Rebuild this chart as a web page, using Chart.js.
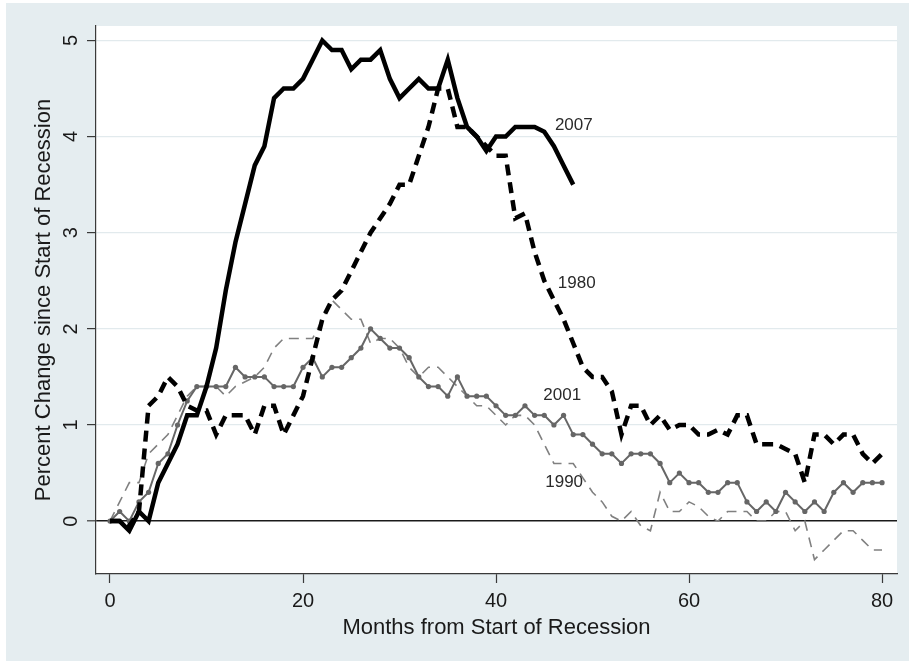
<!DOCTYPE html>
<html>
<head>
<meta charset="utf-8">
<title>Percent Change since Start of Recession</title>
<script src="https://cdn.jsdelivr.net/npm/chart.js@4.4.1/dist/chart.umd.min.js"></script>
<style>
  html, body { margin: 0; padding: 0; background: #ffffff; }
  #wrap { width: 909px; height: 661px; }
</style>
</head>
<body>
<div id="wrap"><canvas id="chart" width="909" height="661"></canvas></div>
<script>
// Percent change since start of recession, one value per month (index = month)
const r2007 = [0, 0, -0.1, 0.1, 0, 0.4, 0.6, 0.8, 1.1, 1.1, 1.4, 1.8, 2.4, 2.9, 3.3, 3.7, 3.9, 4.4, 4.5, 4.5,
  4.6, 4.8, 5.0, 4.9, 4.9, 4.7, 4.8, 4.8, 4.9, 4.6, 4.4, 4.5, 4.6, 4.5, 4.5, 4.8, 4.4, 4.1, 4.0, 3.85,
  4.0, 4.0, 4.1, 4.1, 4.1, 4.05, 3.9, 3.7, 3.5];

const r1980 = [0, 0, -0.05, 0.1, 1.2, 1.3, 1.5, 1.4, 1.2, 1.15, 1.15, 0.9, 1.1, 1.1, 1.1, 0.9, 1.2, 1.2, 0.9, 1.1,
  1.3, 1.7, 2.1, 2.3, 2.4, 2.6, 2.8, 3.0, 3.15, 3.3, 3.5, 3.5, 3.8, 4.1, 4.5, 4.5, 4.1, 4.1, 4.0, 3.9,
  3.8, 3.8, 3.15, 3.2, 2.8, 2.5, 2.3, 2.1, 1.85, 1.6, 1.5, 1.5, 1.35, 0.9, 1.2, 1.2, 1.0, 1.1, 0.95, 1.0,
  1.0, 0.9, 0.9, 0.95, 0.9, 1.1, 1.1, 0.8, 0.8, 0.8, 0.75, 0.7, 0.4, 0.9, 0.9, 0.8, 0.9, 0.9, 0.7, 0.6,
  0.7];

const r2001 = [0, 0.1, 0, 0.2, 0.3, 0.6, 0.7, 1.0, 1.25, 1.4, 1.4, 1.4, 1.4, 1.6, 1.5, 1.5, 1.5, 1.4, 1.4, 1.4,
  1.6, 1.7, 1.5, 1.6, 1.6, 1.7, 1.8, 2.0, 1.9, 1.8, 1.8, 1.7, 1.5, 1.4, 1.4, 1.3, 1.5, 1.3, 1.3, 1.3,
  1.2, 1.1, 1.1, 1.2, 1.1, 1.1, 1.0, 1.1, 0.9, 0.9, 0.8, 0.7, 0.7, 0.6, 0.7, 0.7, 0.7, 0.6, 0.4, 0.5,
  0.4, 0.4, 0.3, 0.3, 0.4, 0.4, 0.2, 0.1, 0.2, 0.1, 0.3, 0.2, 0.1, 0.2, 0.1, 0.3, 0.4, 0.3, 0.4, 0.4,
  0.4];

const r1990 = [0, 0.2, 0.4, 0.4, 0.7, 0.8, 0.9, 1.1, 1.3, 1.4, 1.4, 1.4, 1.3, 1.4, 1.45, 1.5, 1.6, 1.8, 1.9, 1.9,
  1.9, 1.9, 2.1, 2.3, 2.2, 2.1, 2.1, 1.85, 1.9, 1.9, 1.8, 1.6, 1.5, 1.6, 1.6, 1.5, 1.4, 1.3, 1.2, 1.2,
  1.1, 1.0, 1.1, 1.1, 1.0, 0.8, 0.6, 0.6, 0.6, 0.45, 0.3, 0.2, 0.05, 0, 0.1, -0.05, -0.1, 0.3, 0.1, 0.1,
  0.2, 0.15, 0.05, 0, 0.1, 0.1, 0.1, 0, 0, 0.1, 0.1, -0.1, 0, -0.4, -0.3, -0.2, -0.1, -0.1, -0.2, -0.3,
  -0.3];

const seriesNames = ['2007', '1980', '2001', '1990'];
const xTicks = [0, 20, 40, 60, 80];
const yTicks = [0, 1, 2, 3, 4, 5];

document.addEventListener('DOMContentLoaded', () => {
    Chart.defaults.font.family = "'Liberation Sans', Arial, sans-serif";

    const toPoints = (arr) => arr.map((v, i) => ({ x: i, y: v }));
    const textColor = '#1a1a1a';
    const axisColor = '#3a3a3a';

    // where each year's name sits, in data units
    const labelSpots = { '2007': [46.1, 4.12], '1980': [46.4, 2.47], '2001': [44.9, 1.31], '1990': [45.1, 0.4] };

    // outer light panel + white plot region
    const backdrop = {
        id: 'backdrop',
        beforeDraw(chart) {
            const { ctx, chartArea } = chart;
            ctx.save();
            ctx.fillStyle = '#ffffff';
            ctx.fillRect(0, 0, chart.width, chart.height);
            ctx.fillStyle = '#e5edf0';
            ctx.fillRect(6, 3, chart.width - 6, chart.height - 3);
            ctx.fillStyle = '#ffffff';
            ctx.fillRect(chartArea.left, chartArea.top, chartArea.right - chartArea.left, chartArea.bottom - chartArea.top);
            ctx.restore();
        }
    };

    // year names next to the lines
    const yearLabels = {
        id: 'yearLabels',
        afterDatasetsDraw(chart) {
            const { ctx, scales } = chart;
            ctx.save();
            ctx.font = "17px 'Liberation Sans', Arial, sans-serif";
            ctx.fillStyle = '#2a2a2a';
            ctx.textAlign = 'left';
            ctx.textBaseline = 'middle';
            seriesNames.forEach(name => {
                const spot = labelSpots[name];
                ctx.fillText(name, scales.x.getPixelForValue(spot[0]), scales.y.getPixelForValue(spot[1]));
            });
            ctx.restore();
        }
    };

    const ctx = document.getElementById('chart').getContext('2d');
    window.recessionChart = new Chart(ctx, {
        type: 'line',
        data: {
            datasets: [
                {
                    label: seriesNames[0],
                    data: toPoints(r2007),
                    borderColor: '#000000',
                    borderWidth: 4.5,
                    pointRadius: 0,
                    fill: false
                },
                {
                    label: seriesNames[1],
                    data: toPoints(r1980),
                    borderColor: '#000000',
                    borderWidth: 4.5,
                    borderDash: [11, 7],
                    pointRadius: 0,
                    fill: false
                },
                {
                    label: seriesNames[2],
                    data: toPoints(r2001),
                    borderColor: '#666666',
                    borderWidth: 2,
                    pointRadius: 2.6,
                    pointBackgroundColor: '#666666',
                    pointBorderWidth: 0,
                    fill: false
                },
                {
                    label: seriesNames[3],
                    data: toPoints(r1990),
                    borderColor: '#808080',
                    borderWidth: 1.6,
                    borderDash: [10, 7],
                    pointRadius: 0,
                    fill: false
                }
            ]
        },
        options: {
            responsive: false,
            animation: false,
            layout: { padding: { left: 6, right: 12, top: 26, bottom: 6 } },
            plugins: {
                legend: { display: false },
                tooltip: { enabled: false }
            },
            scales: {
                x: {
                    type: 'linear',
                    min: -1.45,
                    max: 81.55,
                    afterBuildTicks: (s) => { s.ticks = xTicks.map(v => ({ value: v })); },
                    afterFit: (s) => { s.height = 81; },
                    grid: { drawOnChartArea: false, tickLength: 9, tickColor: axisColor, tickWidth: 1.2 },
                    border: { color: axisColor, width: 1.2 },
                    ticks: { font: { size: 20 }, color: textColor, padding: 6, maxRotation: 0 },
                    title: {
                        display: true,
                        text: 'Months from Start of Recession',
                        font: { size: 22 },
                        color: textColor,
                        padding: { top: 0, bottom: 14 }
                    }
                },
                y: {
                    type: 'linear',
                    min: -0.55,
                    max: 5.15,
                    afterBuildTicks: (s) => { s.ticks = yTicks.map(v => ({ value: v })); },
                    afterFit: (s) => { s.width = 90; },
                    grid: {
                        color: (c) => (c.tick && c.tick.value === 0 ? '#1a1a1a' : '#e2eaed'),
                        lineWidth: (c) => (c.tick && c.tick.value === 0 ? 1.6 : 1.2),
                        tickLength: 9,
                        tickColor: axisColor,
                        tickWidth: 1.2
                    },
                    border: { color: axisColor, width: 1.2 },
                    ticks: { font: { size: 20 }, color: textColor, minRotation: 90, maxRotation: 90, crossAlign: 'center', padding: 10 },
                    title: {
                        display: true,
                        text: 'Percent Change since Start of Recession',
                        font: { size: 22 },
                        color: textColor,
                        padding: { top: 25, bottom: 0 }
                    }
                }
            }
        },
        plugins: [backdrop, yearLabels]
    });
});
</script>
</body>
</html>
